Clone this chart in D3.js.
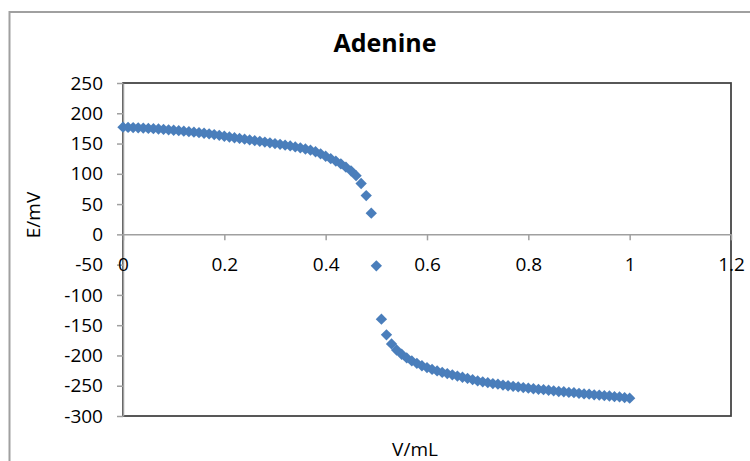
<!DOCTYPE html>
<html>
<head>
<meta charset="UTF-8">
<title>Adenine</title>
<script src="https://cdnjs.cloudflare.com/ajax/libs/d3/7.8.5/d3.min.js"></script>
<style type="text/css">
body { margin: 0; background: #fff; }
svg { display: block; }
.tick text { font-family: "Open Sans", "Liberation Sans", sans-serif; font-size: 19px; fill: #000; }
.axis path, .axis line { stroke: #a0a0a0; stroke-width: 1.5; }
.label { font-family: "Open Sans", "Liberation Sans", sans-serif; font-size: 19px; fill: #000; }
.title { font-family: "Open Sans", "Liberation Sans", sans-serif; font-size: 25px; font-weight: bold; fill: #000; }
</style>
</head>
<body>
<div class="chart"></div>
<script>
// titration data
var volumes = [
  0.00, 0.01, 0.02, 0.03, 0.04, 0.05, 0.06, 0.07, 0.08, 0.09,
  0.10, 0.11, 0.12, 0.13, 0.14, 0.15, 0.16, 0.17, 0.18, 0.19,
  0.20, 0.21, 0.22, 0.23, 0.24, 0.25, 0.26, 0.27, 0.28, 0.29,
  0.30, 0.31, 0.32, 0.33, 0.34, 0.35, 0.36, 0.37, 0.38, 0.39,
  0.40, 0.41, 0.42, 0.43, 0.44, 0.45, 0.46, 0.47, 0.48, 0.49,
  0.50, 0.51, 0.52, 0.53, 0.54, 0.55, 0.56, 0.57, 0.58, 0.59,
  0.60, 0.61, 0.62, 0.63, 0.64, 0.65, 0.66, 0.67, 0.68, 0.69,
  0.70, 0.71, 0.72, 0.73, 0.74, 0.75, 0.76, 0.77, 0.78, 0.79,
  0.80, 0.81, 0.82, 0.83, 0.84, 0.85, 0.86, 0.87, 0.88, 0.89,
  0.90, 0.91, 0.92, 0.93, 0.94, 0.95, 0.96, 0.97, 0.98, 0.99,
  1.00
];
var potentials = [
  177, 176.7, 176.3, 176, 175.5, 175, 174.5, 174, 173.3, 172.6,
  172, 171.2, 170.4, 169.6, 168.8, 168, 167, 166, 164.8, 163.5,
  162, 160.8, 159.6, 158.4, 157.2, 156, 154.8, 153.6, 152.4, 151.2,
  150, 148.7, 147.3, 146, 144.5, 143, 141, 139, 136.5, 133,
  129, 125, 121, 116.5, 111, 105, 97, 84, 64, 35,
  -52, -140, -166, -181, -191, -198, -204, -209, -213, -217,
  -220, -223, -225.5, -228, -230, -232, -234, -236, -238, -240,
  -242, -243.5, -245, -246.5, -247.5, -249, -250, -251, -252, -253,
  -254, -255, -256, -256.5, -257.5, -258.5, -259.5, -260, -261, -261.5,
  -262.5, -263.5, -264, -265, -265.5, -266.5, -267, -268, -268.5, -269.5,
  -270.5
];
var xTicks = [0, 0.2, 0.4, 0.6, 0.8, 1, 1.2];
var yTicks = [250, 200, 150, 100, 50, 0, -50, -100, -150, -200, -250, -300];

var width = 750, height = 461;
var plot = { left: 123, top: 83, right: 731, bottom: 416 };

var svg = d3.select(".chart").append("svg")
    .attr("width", width)
    .attr("height", height);

// outer chart border (runs off the right and bottom)
svg.append("rect")
    .attr("x", 9.5).attr("y", 12)
    .attr("width", 800).attr("height", 500)
    .attr("fill", "none")
    .attr("stroke", "#a0a0a0")
    .attr("stroke-width", 2);

var x = d3.scaleLinear().domain([0, 1.2]).range([plot.left, plot.right]);
var y = d3.scaleLinear().domain([-300, 250]).range([plot.bottom, plot.top]);

// plot area frame
svg.append("rect")
    .attr("x", plot.left).attr("y", plot.top)
    .attr("width", plot.right - plot.left)
    .attr("height", plot.bottom - plot.top)
    .attr("fill", "none")
    .attr("stroke", "#404040")
    .attr("stroke-width", 1.75);

// excel style: plain hyphen for negatives
svg.append("g")
    .attr("class", "axis")
    .attr("transform", "translate(" + plot.left + ",0)")
    .call(d3.axisLeft(y).tickValues(yTicks).tickSize(6).tickPadding(14).tickSizeOuter(0)
        .tickFormat(function (d) { return String(d); }));

svg.append("g")
    .attr("class", "axis")
    .attr("transform", "translate(0," + y(0) + ")")
    .call(d3.axisBottom(x).tickValues(xTicks).tickSize(6).tickPadding(17).tickSizeOuter(0)
        .tickFormat(function (d) { return String(+d.toFixed(1)); }));

var diamond = d3.symbol().type(d3.symbolSquare).size(64);

svg.append("g").selectAll("path")
    .data(volumes)
    .enter()
    .append("path")
    .attr("d", diamond)
    .attr("transform", function (d, i) {
        return "translate(" + x(d) + "," + y(potentials[i]) + ") rotate(45)";
    })
    .attr("fill", "#4a7ebb");

svg.append("text")
    .attr("class", "title")
    .attr("x", 385).attr("y", 52)
    .attr("text-anchor", "middle")
    .text("Adenine");

svg.append("text")
    .attr("class", "label")
    .attr("transform", "translate(40,215) rotate(-90)")
    .attr("text-anchor", "middle")
    .text("E/mV");

svg.append("text")
    .attr("class", "label")
    .attr("x", 415).attr("y", 456)
    .attr("text-anchor", "middle")
    .text("V/mL");
</script>
</body>
</html>
